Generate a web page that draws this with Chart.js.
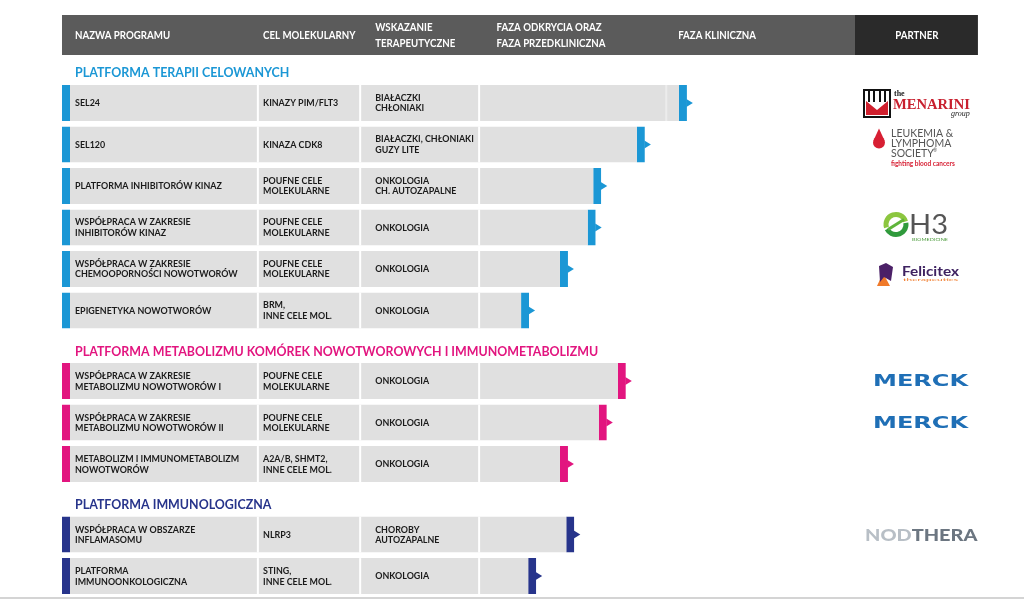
<html>
<head>
<script src="https://cdn.jsdelivr.net/npm/chart.js"></script>
<style>
    body { margin: 0; background: #fff; }
</style>
</head>
<body>
<canvas id="pipelineChart" width="1024" height="600"></canvas>

<script>
    // pipeline data
    const SECTIONS = [
        'PLATFORMA TERAPII CELOWANYCH',
        'PLATFORMA METABOLIZMU KOMÓREK NOWOTWOROWYCH I IMMUNOMETABOLIZMU',
        'PLATFORMA IMMUNOLOGICZNA',
    ]
    const SECTION_COLORS = ['#1b97d5', '#e2157f', '#27348b']

    const PROGRAMS = [
        ['SEL24'],
        ['SEL120'],
        ['PLATFORMA INHIBITORÓW KINAZ'],
        ['WSPÓŁPRACA W ZAKRESIE', 'INHIBITORÓW KINAZ'],
        ['WSPÓŁPRACA W ZAKRESIE', 'CHEMOOPORNOŚCI NOWOTWORÓW'],
        ['EPIGENETYKA NOWOTWORÓW'],
        ['WSPÓŁPRACA W ZAKRESIE', 'METABOLIZMU NOWOTWORÓW I'],
        ['WSPÓŁPRACA W ZAKRESIE', 'METABOLIZMU NOWOTWORÓW II'],
        ['METABOLIZM I IMMUNOMETABOLIZM', 'NOWOTWORÓW'],
        ['WSPÓŁPRACA W OBSZARZE', 'INFLAMASOMU'],
        ['PLATFORMA', 'IMMUNOONKOLOGICZNA'],
    ]
    const TARGETS = [
        ['KINAZY PIM/FLT3'],
        ['KINAZA CDK8'],
        ['POUFNE CELE', 'MOLEKULARNE'],
        ['POUFNE CELE', 'MOLEKULARNE'],
        ['POUFNE CELE', 'MOLEKULARNE'],
        ['BRM,', 'INNE CELE MOL.'],
        ['POUFNE CELE', 'MOLEKULARNE'],
        ['POUFNE CELE', 'MOLEKULARNE'],
        ['A2A/B, SHMT2,', 'INNE CELE MOL.'],
        ['NLRP3'],
        ['STING,', 'INNE CELE MOL.'],
    ]
    const INDICATIONS = [
        ['BIAŁACZKI', 'CHŁONIAKI'],
        ['BIAŁACZKI, CHŁONIAKI', 'GUZY LITE'],
        ['ONKOLOGIA', 'CH. AUTOZAPALNE'],
        ['ONKOLOGIA'],
        ['ONKOLOGIA'],
        ['ONKOLOGIA'],
        ['ONKOLOGIA'],
        ['ONKOLOGIA'],
        ['ONKOLOGIA'],
        ['CHOROBY', 'AUTOZAPALNE'],
        ['ONKOLOGIA'],
    ]
    // progress as % of the phase table width (0 = row start, 100 = start of partner column)
    const PROGRESS = [78.8, 73.5, 68.0, 67.3, 63.8, 58.9, 71.1, 68.7, 63.8, 64.6, 59.8]
    const ROW_SECTION = [0, 0, 0, 0, 0, 0, 1, 1, 1, 2, 2]
    const PARTNERS = ['menarini', 'lls', '', 'h3', 'felicitex', '', 'merck', 'merck', '', 'nodthera', '']

    const HEADERS = [
        { at: 1.64, lines: ['NAZWA PROGRAMU'] },
        { at: 25.35, lines: ['CEL MOLEKULARNY'] },
        { at: 39.5, lines: ['WSKAZANIE', 'TERAPEUTYCZNE'] },
        { at: 54.8, lines: ['FAZA ODKRYCIA ORAZ', 'FAZA PRZEDKLINICZNA'] },
        { at: 77.7, lines: ['FAZA KLINICZNA'] },
    ]
    const COL_SEPARATORS = [24.7, 37.6, 52.6, 76.2]
    const TEXT_COLS = [1.64, 25.35, 39.5]

    const ROW_Y = ROW_SECTION.map((s, i) => i + s * 0.7)

    function fitText(ctx, text, x, y, w) {
        const m = ctx.measureText(text).width
        ctx.save()
        ctx.translate(x, y)
        ctx.scale(w / m, 1)
        ctx.fillText(text, 0, 0)
        ctx.restore()
    }

    // condensed text, the slide font is much narrower than Lato
    function squeezeText(ctx, text, x, y, k) {
        ctx.save()
        ctx.translate(x, y)
        ctx.scale(k, 1)
        ctx.fillText(text, 0, 0)
        ctx.restore()
    }

    function drawLines(ctx, lines, x, y, gap, k) {
        const start = y - ((lines.length - 1) * gap) / 2
        lines.forEach((l, i) => squeezeText(ctx, l, x, start + i * gap, k))
    }

    function drawLogo(ctx, kind, cy) {
        ctx.save()
        ctx.textBaseline = 'alphabetic'
        ctx.textAlign = 'left'
        if (kind === 'menarini') {
            ctx.fillStyle = '#111'
            ctx.fillRect(863, cy - 14, 28, 29)
            ctx.fillStyle = '#fff'
            ctx.fillRect(865, cy - 12, 24, 25)
            ctx.fillStyle = '#111'
            ctx.fillRect(868, cy - 12, 2, 11)
            ctx.fillRect(873, cy - 12, 2, 11)
            ctx.fillRect(879, cy - 12, 2, 11)
            ctx.fillRect(884, cy - 12, 2, 11)
            ctx.fillStyle = '#d0202e'
            ctx.beginPath()
            ctx.moveTo(866, cy - 2)
            ctx.lineTo(877, cy + 7)
            ctx.lineTo(888, cy - 2)
            ctx.lineTo(888, cy + 12)
            ctx.lineTo(866, cy + 12)
            ctx.closePath()
            ctx.fill()
            ctx.fillStyle = '#222'
            ctx.font = 'bold 8px "Liberation Serif"'
            ctx.fillText('the', 894, cy - 7)
            ctx.fillStyle = '#c8202f'
            ctx.font = 'bold 14px "Liberation Serif"'
            fitText(ctx, 'MENARINI', 893, cy + 6, 77)
            ctx.fillStyle = '#222'
            ctx.font = 'italic 8px "Liberation Serif"'
            ctx.fillText('group', 951, cy + 13)
        } else if (kind === 'lls') {
            ctx.fillStyle = '#d71f33'
            ctx.beginPath()
            ctx.arc(879, cy - 2, 6, 0, Math.PI * 2)
            ctx.fill()
            ctx.beginPath()
            ctx.moveTo(873.5, cy - 4)
            ctx.lineTo(879, cy - 16)
            ctx.lineTo(884.5, cy - 4)
            ctx.fill()
            ctx.fillStyle = '#555'
            ctx.font = '10.5px Lato'
            ctx.fillText('LEUKEMIA &', 891, cy - 8)
            ctx.fillText('LYMPHOMA', 891, cy + 2)
            ctx.fillText('SOCIETY', 891, cy + 12)
            ctx.font = '5px Lato'
            ctx.fillText('®', 933, cy + 7)
            ctx.fillStyle = '#d71f33'
            ctx.font = 'bold 6.5px Lato'
            ctx.fillText('fighting blood cancers', 891, cy + 21)
        } else if (kind === 'h3') {
            ctx.lineWidth = 5
            ctx.strokeStyle = '#8cc63f'
            ctx.beginPath()
            ctx.arc(896, cy - 3, 10, Math.PI * 0.9, Math.PI * 1.9)
            ctx.stroke()
            ctx.strokeStyle = '#2f9a3c'
            ctx.beginPath()
            ctx.arc(896, cy - 3, 10, Math.PI * 1.95, Math.PI * 0.85)
            ctx.stroke()
            ctx.strokeStyle = '#5fb43a'
            ctx.lineWidth = 3
            ctx.beginPath()
            ctx.moveTo(888, cy + 2)
            ctx.lineTo(904, cy - 8)
            ctx.stroke()
            ctx.fillStyle = '#555'
            ctx.font = '26px Lato'
            fitText(ctx, 'H3', 909, cy + 6, 39)
            ctx.fillStyle = '#4a9a3a'
            ctx.font = '4px Lato'
            fitText(ctx, 'BIOMEDICINE', 912, cy + 13, 36)
        } else if (kind === 'felicitex') {
            ctx.fillStyle = '#f07a2a'
            ctx.beginPath()
            ctx.moveTo(877, cy + 17)
            ctx.lineTo(883, cy + 4)
            ctx.lineTo(890, cy + 17)
            ctx.fill()
            ctx.fillStyle = '#4b2067'
            ctx.beginPath()
            ctx.moveTo(879, cy - 3)
            ctx.lineTo(886, cy - 6)
            ctx.lineTo(893, cy - 2)
            ctx.lineTo(891, cy + 12)
            ctx.lineTo(884, cy + 8)
            ctx.lineTo(880, cy + 13)
            ctx.closePath()
            ctx.fill()
            ctx.fillStyle = '#3e2261'
            ctx.font = 'bold 13px Lato'
            fitText(ctx, 'Felicitex', 902, cy + 7, 57)
            ctx.fillStyle = '#f07a2a'
            ctx.font = '4.5px Lato'
            fitText(ctx, 'therapeutics', 903, cy + 12, 55)
        } else if (kind === 'merck') {
            ctx.fillStyle = '#1f6fb6'
            ctx.font = 'bold 16px "DejaVu Sans"'
            ctx.textBaseline = 'middle'
            fitText(ctx, 'MERCK', 873, cy + 1, 95)
        } else if (kind === 'nodthera') {
            ctx.font = '900 16px Lato'
            ctx.textBaseline = 'middle'
            const total = ctx.measureText('NODTHERA').width
            const k = 112 / total
            ctx.translate(865, cy + 1)
            ctx.scale(k, 1)
            ctx.fillStyle = '#b8bfc6'
            ctx.fillText('NOD', 0, 0)
            ctx.fillStyle = '#6c7681'
            ctx.fillText('THERA', ctx.measureText('NOD').width, 0)
        }
        ctx.restore()
    }

    const tablePlugin = {
        id: 'pipelineTable',
        beforeDatasetsDraw(chart) {
            const { ctx, scales: { x, y } } = chart
            ctx.save()
            // header band
            ctx.fillStyle = '#5b5b5b'
            ctx.fillRect(x.getPixelForValue(0), 15, x.getPixelForValue(100) - x.getPixelForValue(0), 40)
            ctx.fillStyle = '#2a2a2a'
            ctx.fillRect(x.getPixelForValue(100), 15, x.getPixelForValue(115.5) - x.getPixelForValue(100), 40)
            ctx.fillStyle = '#fff'
            ctx.font = 'bold 11px Lato'
            ctx.textBaseline = 'middle'
            ctx.textAlign = 'left'
            HEADERS.forEach((h) => drawLines(ctx, h.lines, x.getPixelForValue(h.at), 35, 16, 0.88))
            ctx.textAlign = 'center'
            squeezeText(ctx, 'PARTNER', x.getPixelForValue(107.8), 35, 0.88)

            // section titles
            ctx.textAlign = 'left'
            ctx.font = 'bold 13.5px Lato'
            SECTIONS.forEach((title, s) => {
                const first = ROW_SECTION.indexOf(s)
                ctx.fillStyle = SECTION_COLORS[s]
                squeezeText(ctx, title, x.getPixelForValue(1.64), y.getPixelForValue(ROW_Y[first] - 0.72), 0.92)
            })
            ctx.restore()
        },
        afterDatasetsDraw(chart) {
            const { ctx, scales: { x } } = chart
            const bars = chart.getDatasetMeta(0).data
            ctx.save()
            bars.forEach((bar, i) => {
                const color = SECTION_COLORS[ROW_SECTION[i]]
                const h = bar.height
                // column separators inside the grey bar
                ctx.lineWidth = 2
                COL_SEPARATORS.forEach((c) => {
                    const px = x.getPixelForValue(c)
                    if (px < bar.x - 12) {
                        ctx.strokeStyle = c > 70 ? '#ececec' : '#fff'
                        ctx.beginPath()
                        ctx.moveTo(px, bar.y - h / 2)
                        ctx.lineTo(px, bar.y + h / 2)
                        ctx.stroke()
                    }
                })
                // arrow tip on the end marker
                ctx.fillStyle = color
                ctx.beginPath()
                ctx.moveTo(bar.x - 0.5, bar.y - 4)
                ctx.lineTo(bar.x + 6, bar.y)
                ctx.lineTo(bar.x - 0.5, bar.y + 4)
                ctx.closePath()
                ctx.fill()

                // row texts
                ctx.fillStyle = '#1a1a1a'
                ctx.font = 'bold 10px Lato'
                ctx.textBaseline = 'middle'
                ctx.textAlign = 'left'
                ;[PROGRAMS[i], TARGETS[i], INDICATIONS[i]].forEach((lines, c) => {
                    drawLines(ctx, lines, x.getPixelForValue(TEXT_COLS[c]), bar.y, 10.5, 0.89)
                })

                if (PARTNERS[i]) drawLogo(ctx, PARTNERS[i], bar.y)
            })

            // bottom rule
            ctx.strokeStyle = '#d4d4d4'
            ctx.lineWidth = 2
            ctx.beginPath()
            ctx.moveTo(0, 598)
            ctx.lineTo(1024, 598)
            ctx.stroke()
            ctx.restore()
        },
    }

    new Chart(document.getElementById('pipelineChart'), {
        type: 'bar',
        data: {
            datasets: [
                {
                    label: 'Postęp',
                    data: PROGRESS.map((v, i) => ({ x: v, y: ROW_Y[i] })),
                    backgroundColor: '#e0e0e0',
                    borderColor: ROW_SECTION.map((s) => SECTION_COLORS[s]),
                    borderWidth: { left: 8, right: 8, top: 0, bottom: 0 },
                    borderSkipped: false,
                    inflateAmount: 0,
                    barThickness: 36,
                },
            ],
        },
        options: {
            indexAxis: 'y',
            responsive: false,
            animation: false,
            layout: { padding: 0 },
            plugins: {
                legend: { display: false },
                tooltip: { enabled: false },
            },
            scales: {
                x: { type: 'linear', min: -7.818, max: 121.31, display: false },
                y: { type: 'linear', min: -2.482, max: 11.976, reverse: true, offset: false, display: false },
            },
        },
        plugins: [tablePlugin],
    })
</script>
</body>
</html>
